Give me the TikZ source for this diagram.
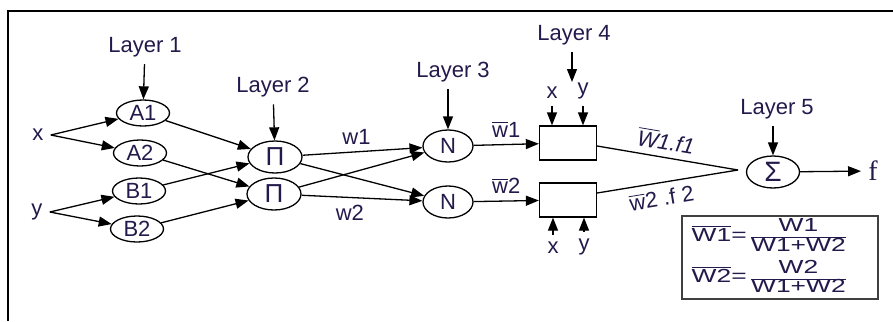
\documentclass[tikz,border=0pt]{standalone}
\usepackage{fontspec}
\usepackage{graphicx}
\setmainfont{Liberation Sans}
\newfontfamily\serifff{Liberation Serif}
\usetikzlibrary{shapes.geometric,arrows.meta}
\definecolor{txt}{RGB}{35,25,75}
\newcommand\ratio[2]{{\renewcommand\arraystretch{0.56}\begin{tabular}{@{}c@{}}#1\\[1pt]\hline #2\end{tabular}}}
\begin{document}
\begin{tikzpicture}[x=0.5pt,y=-0.5pt, line width=0.65pt,
  every node/.style={font=\fontsize{11}{13}\selectfont,text=txt},
  arr/.style={-{Triangle[length=6.5pt,width=5pt]}},
  mf/.style={draw,ellipse,inner sep=0pt,minimum width=26.5pt,minimum height=13pt},
  prod/.style={draw,ellipse,inner sep=0pt,minimum width=27pt,minimum height=16pt},
  cons/.style={draw,rectangle,inner sep=0pt,minimum width=28.5pt,minimum height=17pt}]
\useasboundingbox (0,0) rectangle (893,321);
\draw[line width=1.1pt] (8,321) -- (8,11) -- (893,11);
% layer 1
\node (inx) at (38,135) {x};
\node (iny) at (37,212) {y};
\node[mf] (A1) at (143,113) {A1};
\node[mf] (A2) at (140,153) {A2};
\node[mf] (B1) at (139,191) {B1};
\node[mf] (B2) at (137,229) {B2};
\node (L1) at (145,47) {Layer 1};
\draw[arr] (L1) -- (A1);
\draw[arr] (inx.east) -- (A1);
\draw[arr] (inx.east) -- (A2);
\draw[arr] (iny.east) -- (B1);
\draw[arr] (iny.east) -- (B2);
% layer 2
\node[prod] (P1) at (275,157) {\fontsize{13}{15}\selectfont Π};
\node[prod] (P2) at (274,194) {\fontsize{13}{15}\selectfont Π};
\node (L2) at (273,87) {Layer 2};
\draw[arr] (L2) -- (P1);
\draw[arr] (A1) -- (P1);
\draw[arr] (A2) -- (P2);
\draw[arr] (B1) -- (P1);
\draw[arr] (B2) -- (P2);
% layer 3
\node[prod,minimum width=25pt] (N1) at (448,146) {N};
\node[prod,minimum width=25pt] (N2) at (448,202) {N};
\node (L3) at (453,72) {Layer 3};
\draw[arr] (L3.south -| N1) -- (N1);
\draw[arr] (P1) -- (N1) node[pos=0.45,above] {w1};
\draw[arr] (P1) -- (N2);
\draw[arr] (P2) -- (N1);
\draw[arr] (P2) -- (N2) node[pos=0.4,below] {w2};
% layer 4
\node[cons] (C1) at (568,143) {};
\node[cons] (C2) at (568,200) {};
\draw[arr] (N1) -- (C1) node[midway,above] {$\overline{\mbox{w}}$1};
\draw[arr] (N2) -- (C2) node[midway,above] {$\overline{\mbox{w}}$2};
\node (L4) at (574,35) {Layer 4};
\coordinate (L4end) at (572,82);
\draw[arr] (L4.south -| L4end) -- (L4end);
\node (cx1) at (552,93) {x};
\node (cy1) at (583,91) {y};
\draw[arr] (cx1) -- (cx1 |- C1.north);
\draw[arr] (cy1) -- (cy1 |- C1.north);
\node (cx2) at (553,248) {x};
\node (cy2) at (584,247) {y};
\draw[arr] (cx2) -- (cx2 |- C2.south);
\draw[arr] (cy2) -- (cy2 |- C2.south);
% layer 5
\node[prod,minimum width=26.5pt] (S) at (773,172) {\fontsize{14}{16}\selectfont Σ};
\node (L5) at (777,109) {Layer 5};
\draw[arr] (L5.south -| S) -- (S);
\coordinate (join) at (738,170);
\draw ([yshift=-1.5pt]C1.east) -- (join) node[pos=0.47,above,sloped] {\itshape$\overline{\mbox{W}}$1.f1};
\draw ([yshift=3.5pt]C2.east) -- (join) node[pos=0.44,below,sloped] {$\overline{\mbox{w}}$2 .f 2};
\node[font=\serifff\fontsize{14}{16}\selectfont] (out) at (873,171) {f};
\draw[arr] (S) -- (out);
% normalisation
\node[draw=black!75,minimum width=98pt,minimum height=41.5pt] (eq) at (780,257.5) {};
\node[anchor=west,inner sep=0pt] (eq1) at (691,237)
  {\scalebox{1.2}[0.86]{$\overline{\mbox{W1}}$=\,\ratio{W1}{W1+W2}}};
\node[anchor=west,inner sep=0pt] (eq2) at (691,278)
  {\scalebox{1.2}[0.86]{$\overline{\mbox{W2}}$=\,\ratio{W2}{W1+W2}}};
\end{tikzpicture}
\end{document}
